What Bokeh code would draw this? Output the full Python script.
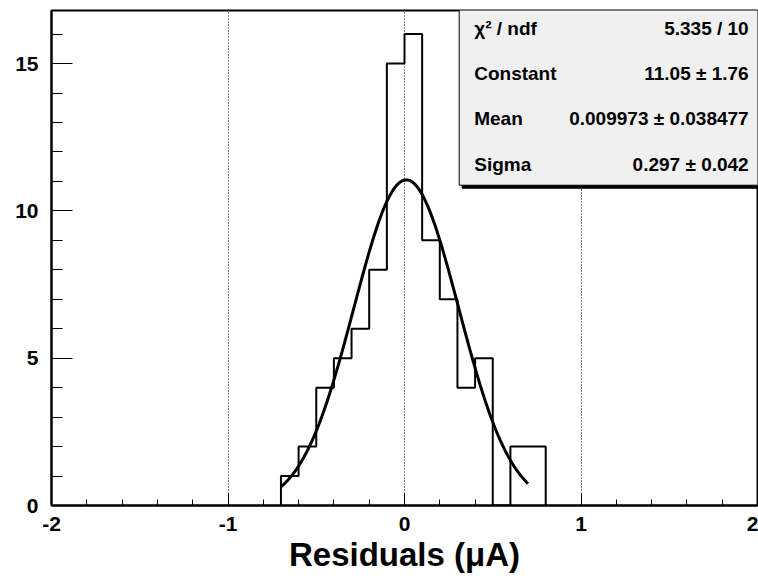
import numpy as np
from bokeh.plotting import figure
from bokeh.models import Range1d, SingleIntervalTicker, Label, PrintfTickFormatter
from bokeh.embed import file_html
from bokeh.resources import INLINE

# ---- data ----
bin_edges = [-0.7, -0.6, -0.5, -0.4, -0.3, -0.2, -0.1, 0.0, 0.1, 0.2, 0.3, 0.4, 0.5, 0.6, 0.7, 0.8]
counts = [1, 2, 4, 5, 6, 8, 15, 16, 9, 7, 4, 5, 0, 2, 2]
fit_constant = 11.05
fit_mean = 0.009973
fit_sigma = 0.297
fit_range = [-0.7, 0.7]
stat_names = ["χ² / ndf", "Constant", "Mean", "Sigma"]
stat_values = ["5.335 / 10", "11.05 ± 1.76", "0.009973 ± 0.038477", "0.297 ± 0.042"]
x_title = "Residuals (μA)"

FONT = "Liberation Sans"

p = figure(width=758, height=581, output_backend="svg", toolbar_location=None,
           x_range=Range1d(-2, 2), y_range=Range1d(0, 16.8),
           min_border_left=51, min_border_right=1, min_border_top=10, min_border_bottom=76)
p.background_fill_color = "white"
p.border_fill_color = "white"
p.outline_line_color = "black"
p.outline_line_width = 2

# axes
xa = p.xaxis[0]
ya = p.yaxis[0]
xa.ticker = SingleIntervalTicker(interval=1, num_minor_ticks=5)
ya.ticker = SingleIntervalTicker(interval=5, num_minor_ticks=5)
for ax in (xa, ya):
    ax.formatter = PrintfTickFormatter(format="%d")
    ax.axis_line_color = "black"
    ax.axis_line_width = 2
    ax.major_tick_out = 0
    ax.minor_tick_out = 0
    ax.major_tick_line_color = "black"
    ax.minor_tick_line_color = "black"
    ax.major_tick_line_width = 1
    ax.minor_tick_line_width = 1
    ax.major_label_text_font = FONT
    ax.major_label_text_font_style = "bold"
    ax.major_label_text_font_size = "21px"
    ax.major_label_text_color = "black"
xa.major_tick_in = 12
xa.minor_tick_in = 6
ya.major_tick_in = 21
ya.minor_tick_in = 11
xa.major_label_standoff = 11
ya.major_label_standoff = 13

xa.axis_label = x_title
xa.axis_label_text_font = FONT
xa.axis_label_text_font_style = "bold"
xa.axis_label_text_font_size = "33px"
xa.axis_label_text_color = "black"
xa.axis_label_standoff = 2

# grid
p.ygrid.visible = False
p.xgrid.grid_line_color = "black"
p.xgrid.grid_line_dash = "1 2"
p.xgrid.grid_line_width = 1
p.xgrid.ticker = SingleIntervalTicker(interval=1)

# histogram outline
edges = np.array(bin_edges)
cnt = np.array(counts, dtype=float)
hx = np.repeat(edges, 2)
hy = np.concatenate([[0.0], np.repeat(cnt, 2), [0.0]])
p.line(hx, hy, line_color="black", line_width=2)

# gaussian fit curve
fx = np.linspace(fit_range[0], fit_range[1], 300)
fy = fit_constant * np.exp(-0.5 * ((fx - fit_mean) / fit_sigma) ** 2)
p.line(fx, fy, line_color="black", line_width=3)

# stats box (layout in data units)
px_x = 4.0 / 706.0
px_y = 16.8 / 495.0
box_left, box_bottom = 0.31, 10.87
p.quad(left=box_left + 3 * px_x, right=2.5, bottom=box_bottom - 3 * px_y, top=18,
       fill_color="black", line_color="black")
p.quad(left=box_left, right=2.5, bottom=box_bottom, top=18,
       fill_color="#f0f0f0", line_color="black", line_width=1)

row_y = [16.18, 14.65, 13.12, 11.59]
for name, val, yy in zip(stat_names, stat_values, row_y):
    p.add_layout(Label(x=0.395, y=yy, text=name, text_font=FONT, text_font_style="bold",
                       text_font_size="19px", text_baseline="middle", text_align="left",
                       text_color="black"))
    p.add_layout(Label(x=1.95, y=yy, text=val, text_font=FONT, text_font_style="bold",
                       text_font_size="19px", text_baseline="middle", text_align="right",
                       text_color="black"))

open("out.html", "w").write(file_html(p, INLINE))
